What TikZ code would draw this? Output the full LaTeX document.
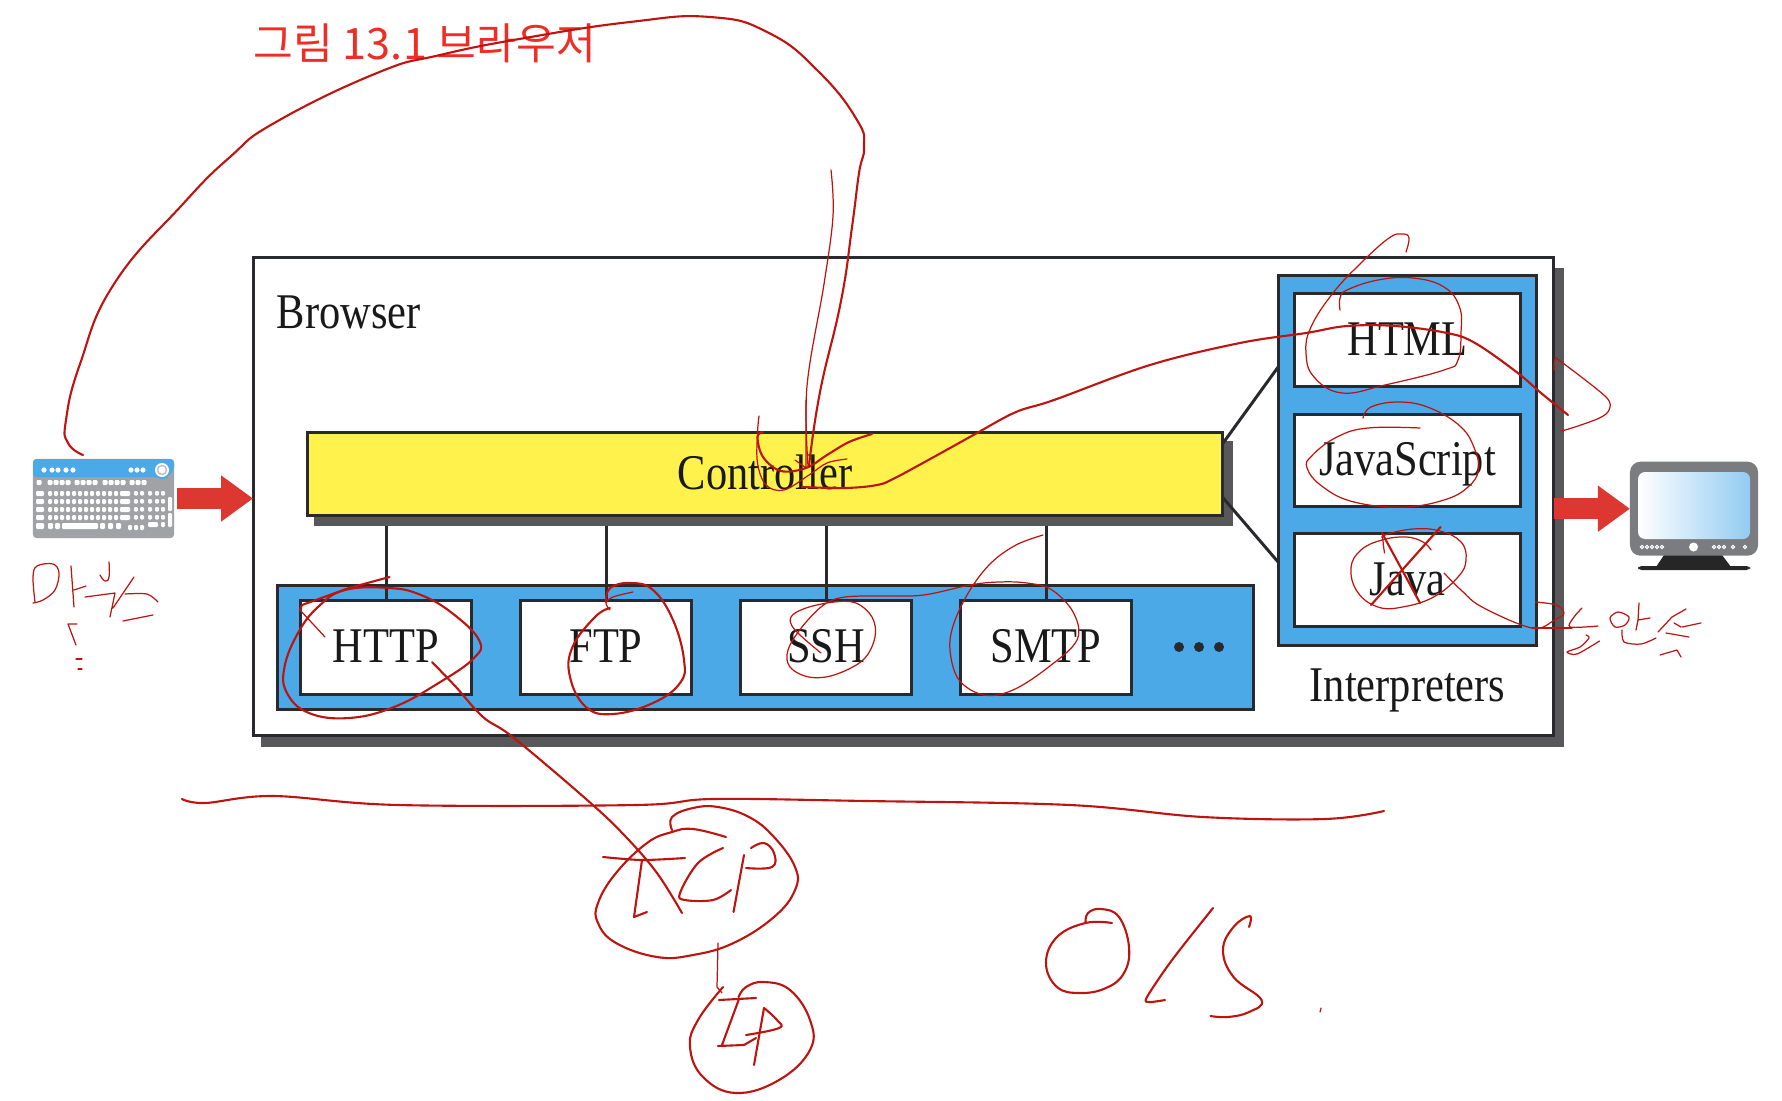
\documentclass[tikz,border=0pt]{standalone}
\usepackage{fontspec}
\setmainfont[FakeStretch=0.85]{Liberation Serif}
\newfontfamily\cjk{Noto Sans CJK KR}
\usetikzlibrary{arrows.meta, calc}
\definecolor{BarBlue}{RGB}{75, 169, 232}
\definecolor{BarYellow}{RGB}{255, 242, 77}
\definecolor{ArrowRed}{RGB}{220, 55, 49}
\definecolor{TitleRed}{RGB}{238, 46, 36}
\definecolor{InkRed}{RGB}{190, 20, 16}
\definecolor{ShadowGray}{RGB}{88, 88, 90}
\definecolor{EdgeDark}{RGB}{40, 42, 46}
\definecolor{KeyGray}{RGB}{160, 162, 166}
\definecolor{ScreenGray}{RGB}{122, 124, 128}

\begin{document}
\begin{tikzpicture}[
    x=0.01cm, y=-0.01cm,
    panel/.style={draw=EdgeDark, line width=0.85pt, inner sep=0pt, outer sep=0pt},
    bluebar/.style={panel, fill=BarBlue},
    boxtext/.style={text=black!90, text height=0.4cm, text depth=0.1cm, font=\fontsize{14.2}{17}\selectfont},
    protobox/.style={panel, boxtext, fill=white, minimum width=1.7cm, minimum height=0.93cm},
    interpbox/.style={panel, boxtext, fill=white, minimum width=2.26cm, minimum height=0.92cm},
    plainlabel/.style={inner sep=0pt, text=black!90, font=\fontsize{14.2}{17}\selectfont},
    wire/.style={draw=EdgeDark, line width=0.85pt},
    bigarrow/.style={draw=ArrowRed, line width=0.21cm, -{Triangle[length=0.32cm, width=0.44cm]}},
    ink/.style={draw=InkRed, line width=0.6pt, line cap=round, line join=round},
    inkthin/.style={draw=InkRed, line width=0.35pt, line cap=round, line join=round},
    key/.style={fill=white, rounded corners=0.3pt}
  ]
    \useasboundingbox (0,0) rectangle (1782,1100);

    % Title
    \node[anchor=base west, inner sep=0pt, text=TitleRed, font=\fontsize{12.3}{14}\cjk] (title) at (253,59) {그림 13.1 브라우저};

    % Browser
    \fill[ShadowGray] (261,268) rectangle (1564,747);
    \node[panel, fill=white, minimum width=13cm, minimum height=4.77cm] (browser) at (903.5,496.5) {};
    \node[plainlabel, anchor=base west] (browserlabel) at (276,328) {Browser};

    % Protocols
    \node[bluebar, minimum width=9.76cm, minimum height=1.23cm] (protobar) at (765.5,647.5) {};
    \node[protobox] (http) at (386,647.5) {HTTP};
    \node[protobox] (ftp) at (606,647.5) {FTP};
    \node[protobox] (ssh) at (826,647.5) {SSH};
    \node[protobox] (smtp) at (1046,647.5) {SMTP};
    \foreach \dotx in {1179,1199,1219}
      \fill[EdgeDark] (\dotx,647) circle (5);

    % Controller
    \fill[ShadowGray] (314,441) rectangle (1233,526);
    \node[panel, boxtext, fill=BarYellow, minimum width=9.15cm, minimum height=0.83cm] (controller) at (765,474) {Controller};

    % Interpreters
    \node[bluebar, minimum width=2.585cm, minimum height=3.695cm] (interp) at (1407.5,460.75) {};
    \node[interpbox] (html) at (1407.5,340) {HTML};
    \node[interpbox] (js) at (1407.5,460.5) {JavaScript};
    \node[interpbox] (java) at (1407.5,580) {Java};
    \node[plainlabel, anchor=base] (interplabel) at (1407.5,701) {Interpreters};

    % Wires
    \foreach \proto in {http, ftp, ssh, smtp}
      \draw[wire] (\proto.north) -- ([yshift=-0.1cm]\proto.north |- controller.south);
    \draw[wire] ([yshift=-0.11cm]controller.north east) -- ([yshift=-0.91cm]interp.north west);
    \draw[wire] ([yshift=0.18cm]controller.south east) -- ([yshift=0.835cm]interp.south west);

    % Keyboard
    \node[fill=KeyGray, rounded corners=1pt, inner sep=0pt, outer sep=0pt, minimum width=1.41cm, minimum height=0.79cm] (kbd) at (103.5,498.5) {};
    \fill[BarBlue, rounded corners=1pt] (33,477) -- (33,459) -- (174,459) -- (174,470) -- (164,480) -- (155,477) -- cycle;
    \foreach \kx in {44,52,58,66,73,131,137,143}
      \fill[white] (\kx,470) circle (2.6);
    \fill[white] (162,470) circle (7);
    \draw[KeyGray!70, line width=0.4pt] (162,470) circle (4.5);
    \foreach \kx in {39,50,56,62,68,77,83,89,95,105,111,117,123,132,138,144}
      \fill[key] (\kx-2.5,480) rectangle +(5,5);
    \foreach \ky in {491,499,507,515} {
      \fill[key] (36,\ky) rectangle +(8,5);
      \foreach \kx in {48,54,...,114}
        \fill[key] (\kx,\ky) rectangle +(4,5);
      \fill[key] (120,\ky) rectangle +(10,5);
      \foreach \kx in {134,140,148,155,161}
        \fill[key] (\kx,\ky) rectangle +(4,4.5);
    }
    \fill[key] (168,497) rectangle +(4,14);
    \fill[key] (168,513) rectangle +(4,14);
    \fill[key] (36,523) rectangle +(8,6);
    \foreach \kx in {48,55,100,108,116}
      \fill[key] (\kx,523) rectangle +(5,6);
    \fill[key] (62,523) rectangle +(36,6);
    \foreach \kx in {128,134,140}
      \fill[key] (\kx,525) rectangle +(4,5);
    \fill[key] (148,522) rectangle +(10,5);
    \fill[key] (161,522) rectangle +(4,5);

    % Monitor
    \fill[black!85] (1664,555) -- (1722,555) -- (1731,567) -- (1656,567) -- cycle;
    \fill[black!85, rounded corners=1pt] (1638,566) rectangle (1750,570);
    \node[fill=ScreenGray, rounded corners=3pt, inner sep=0pt, outer sep=0pt, minimum width=1.28cm, minimum height=0.94cm] (monitor) at (1694,508.7) {};
    \shade[left color=white, right color=BarBlue!60, rounded corners=2pt] (1638,472) rectangle (1750,539);
    \fill[white] (1693.5,547) circle (4.5);
    \foreach \mx in {1642,1647,1652,1657,1662,1714,1719,1724,1733,1745}
      \draw[white, line width=0.3pt] (\mx,547) circle (1.7);

    % Big arrows
    \draw[bigarrow, shorten <=0.03cm] (kbd.east) -- (kbd.east -| browser.west);
    \draw[bigarrow] (browser.east |- monitor.west) -- (monitor.west);

    % Notes: keyboard to controller
    \draw[ink] plot[smooth, tension=0.8] coordinates {(83,455) (68,443) (66,420) (80,364) (114,284) (182,205) (230,157) (276,122) (377,73) (440,55) (525,38) (630,22) (710,17) (769,33) (819,72) (857,120) (864,147) (859,173) (852,227) (841,301) (820,392) (809,466)};
    \draw[inkthin] plot[smooth, tension=0.6] coordinates {(831,170) (833,216) (824,284) (807,386) (808,466)};
    \draw[inkthin] (806,400) -- (806,468) (795,460) -- (806,468);
    \draw[inkthin] plot[smooth, tension=0.6] coordinates {(759,416) (757.5,433) (757.5,463) (766,485) (784,490) (809,475) (827,463) (847,459)};
    \draw[ink] plot[smooth, tension=0.6] coordinates {(763,432) (757.5,437) (763,457) (781,471) (806,468) (827,455) (849,442) (872,434)};

    % Notes: controller to HTML
    \draw[ink] plot[smooth, tension=0.6] coordinates {(802,487) (845,488) (877,485) (895,478) (941,453) (977,433) (1016,412) (1054,400) (1150,365) (1240,343) (1306,333) (1347,326) (1395.5,326) (1447,333) (1475,343) (1516.5,372) (1541,393) (1568,415)};
    \draw[inkthin] plot[smooth, tension=0.5] coordinates {(1554,370) (1555,359) (1561.5,362) (1606,397) (1609,410) (1599.5,418) (1575,427) (1561.5,431)};
    \draw[inkthin] plot[smooth, tension=0.7] coordinates {(1406,252) (1409,238) (1402.5,234) (1389,238) (1361,263) (1333,293) (1311,327) (1306,353) (1314,377) (1342,393) (1385,385) (1444,370) (1458,360) (1461,333) (1459.5,307) (1444,287) (1413,278) (1378,280) (1347,290) (1340,298) (1340,310)};
    \draw[inkthin] plot[smooth, tension=0.7] coordinates {(1363,418) (1371,407) (1399,402) (1430,408) (1461,427) (1475,450) (1478.5,470) (1468,487) (1444,500) (1402.5,507) (1354,502) (1323,487) (1307,468) (1312.6,455) (1337,437) (1368,428) (1420,428)};
    \draw[inkthin] plot[smooth, tension=0.7] coordinates {(1431,550) (1423,542) (1406,537) (1382,540) (1361,550) (1351,568) (1357.5,592) (1378,607) (1402.5,607) (1433.6,597) (1458,577) (1466,560) (1461,542) (1440,531) (1413,529) (1385,535) (1383,540) (1384.5,553)};
    \draw[ink] (1382,533) -- (1420,603) (1440.5,527) -- (1371,605);
    \draw[inkthin] plot[smooth, tension=0.6] coordinates {(1444,573) (1461,590) (1482,607) (1532,628) (1554.5,620) (1564,613) (1556,605) (1535.5,602)};
    \draw[inkthin] (1532,628) -- (1572,628);

    % Notes: word right of Java
    \draw[inkthin] plot[smooth] coordinates {(1582,608) (1574,617) (1570,627) (1598,626)};
    \draw[inkthin] plot[smooth, tension=0.5] coordinates {(1586,635) (1589,638) (1580,647) (1567,652) (1577,654) (1599.5,641)};
    \draw[inkthin] plot[smooth cycle] coordinates {(1618,612) (1610,618) (1615,627) (1625,625) (1629,617)};
    \draw[inkthin] (1639,603) -- (1638,620) -- (1636,630) (1638,620) -- (1650,618);
    \draw[inkthin] plot[smooth] coordinates {(1622,630) (1624,642) (1641,644) (1656,638)};
    \draw[inkthin] (1686,609) -- (1672,617) -- (1658,632) (1674,623) -- (1681,627) (1701,623) -- (1682,627) (1666,633) -- (1689,637);
    \draw[inkthin] (1660,655) -- (1677,650) -- (1681,657);

    % Notes: protocols
    \draw[ink] (389.5,577) -- (349,588) -- (302,605) -- (300,610);
    \draw[inkthin] (300,610) -- (325,637);
    \draw[ink] plot[smooth cycle, tension=0.7] coordinates {(389.5,588) (421,595) (452,613) (479,640) (474,658) (438.6,683) (394,707) (349,718) (309,713) (287,693) (284.5,667) (298,633) (318,607) (345,590)};
    \draw[ink] plot[smooth, tension=0.6] coordinates {(432,662) (456,687) (483,717) (514,738) (590.6,803) (626,837) (657,873) (682,913)};
    \draw[inkthin] plot[smooth, tension=0.6] coordinates {(633,592) (613,597) (606,603) (610,610)};
    \draw[ink] plot[smooth, tension=0.7] coordinates {(606,602) (610,588) (630.5,583) (653,590) (673,620) (684,660) (680,683) (653,703) (613,714) (586,707) (570,677) (572.5,647) (595,617) (610,608)};
    \draw[inkthin] plot[smooth, tension=0.6] coordinates {(1043,535) (1016,545) (991,563) (970,590) (954,623) (950,650) (959,680) (984,695) (1013,690) (1048.6,667) (1077,640) (1073.6,613) (1052,590) (1027,583) (998.6,582) (970,585) (923.6,595) (884,596) (845,597) (823.6,605) (802,627) (788,650) (790,667) (809,677) (834,675) (863,660) (875,637) (872,617) (856,603) (834,602) (806,608) (791,617) (795,630) (821,653)};

    % Notes: line, TCP, IP
    \draw[ink] plot[smooth, tension=0.6] coordinates {(182,799) (205,803) (273,796) (398,805) (636,805) (713,799) (866,801) (1070,805) (1203,817) (1325,819) (1384,811)};
    \draw[ink] plot[smooth, tension=0.7] coordinates {(672,830) (672,817) (693,808) (718,807) (749,817) (774,837) (795,867) (795,890) (774,917) (733.5,943) (693,955) (657,957) (616,943) (598,923) (598,903) (616,873) (647,843) (672,832) (693,829) (726,837)};
    \draw[ink] plot[smooth] coordinates {(603,857) (642,860) (685,858)};
    \draw[ink] (642,860) -- (634,917) -- (647,912);
    \draw[ink] plot[smooth, tension=0.6] coordinates {(723,848) (698,863) (680,893) (685,900) (713,900) (731,890)};
    \draw[ink] (744,855) -- (733.5,912);
    \draw[ink] plot[smooth, tension=0.7] coordinates {(746,868) (772,867) (774,853) (764,843) (751,848)};
    \draw[inkthin] (718,943) -- (717,987) -- (722,993);
    \draw[ink] plot[smooth, tension=0.7] coordinates {(723,987) (698,1020) (690,1047) (703,1077) (736,1093) (779,1080) (810,1050) (810,1020) (790,990) (764,982) (746,987) (738.6,997)};
    \draw[ink] (719,1000) -- (756,998) (738.6,1000) -- (722,1045) (718,1046) -- (744,1045) -- (756,1038);
    \draw[ink] (764,1008) -- (754,1065);
    \draw[ink] plot[smooth, tension=0.7] coordinates {(764,1008) (777,1020) (779,1028) (746,1035)};

    % Notes: OlS
    \draw[ink] plot[smooth, tension=0.7] coordinates {(1085.5,923) (1088,913) (1101,909) (1119,917) (1129,947) (1124,973) (1106,988) (1080,993) (1057,987) (1046,963) (1057,937) (1085.5,923) (1112,923)};
    \draw[ink] plot[smooth, tension=0.5] coordinates {(1213,908) (1172,960) (1147,997) (1149,1002) (1165,1000)};
    \draw[ink] plot[smooth, tension=0.7] coordinates {(1249,927) (1250,916) (1233.5,927) (1223,950) (1233.5,977) (1261.5,1000) (1249,1012) (1228,1017) (1210.5,1016)};
    \draw[inkthin] (1321,1008) -- (1320,1012);

    % Notes: word under keyboard
    \draw[inkthin] plot[smooth, tension=0.6] coordinates {(35,602) (33,577) (37,566) (53,564) (59,573) (55,590) (43,600) (33,603)};
    \draw[inkthin] (71,566) -- (74,607) (74,590) -- (86,586);
    \draw[inkthin] plot[smooth, tension=0.8] coordinates {(109,562) (109,577) (105,581) (100,575)};
    \draw[inkthin] (85,597) -- (115,593) -- (110,617) (134,577) -- (113,608);
    \draw[inkthin] plot[smooth] coordinates {(125,594) (147,594) (158,602)};
    \draw[inkthin] (153,615) -- (123,621);
    \draw[inkthin] (77,624) -- (68,624) -- (76,645);
    \draw[inkthin] (76,659) -- (82,659) (78,669) -- (82,669);
  \end{tikzpicture}
\end{document}
